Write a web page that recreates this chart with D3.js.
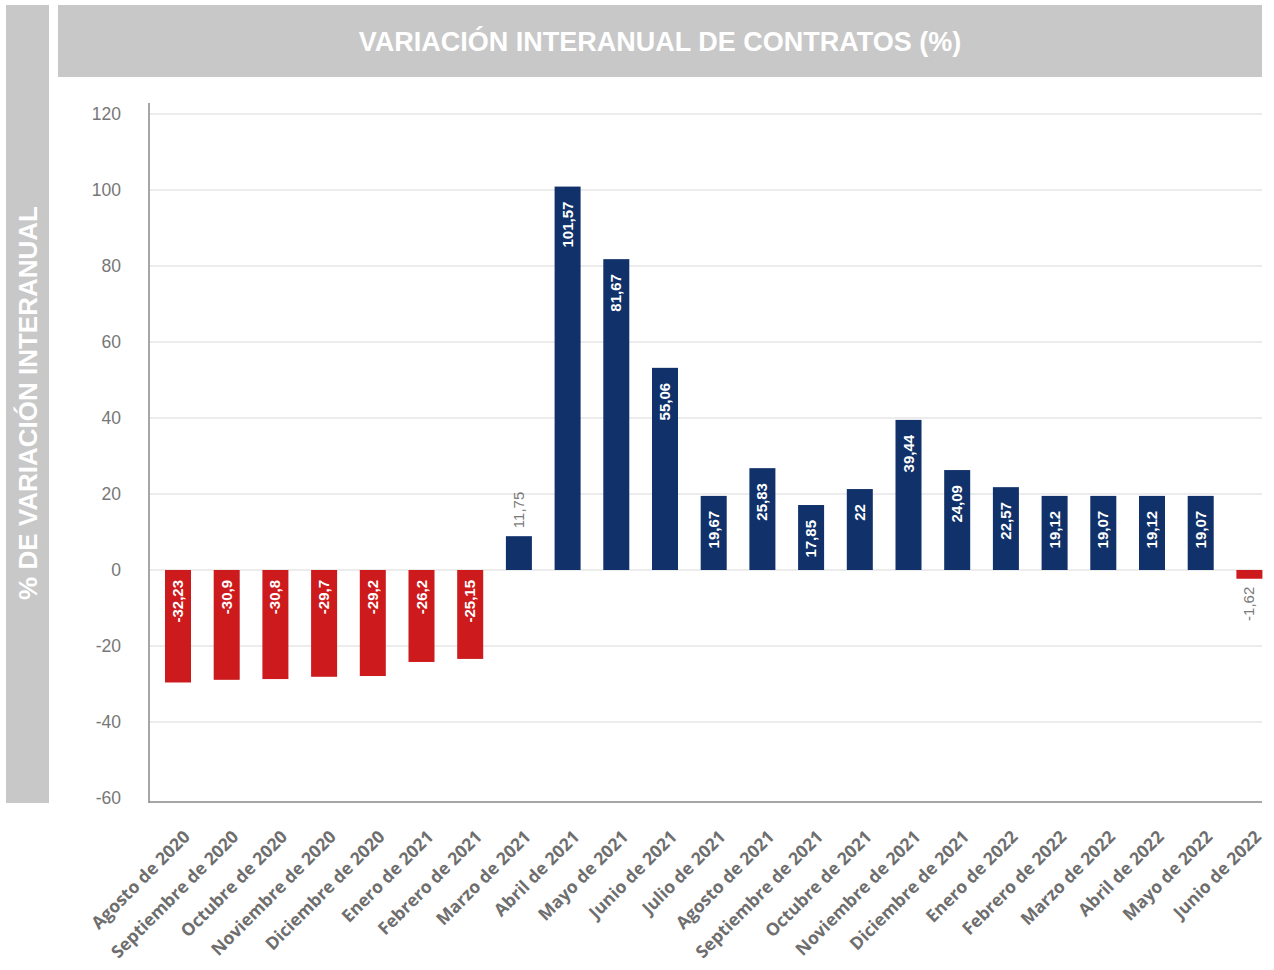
<!DOCTYPE html>
<html>
<head>
<meta charset="utf-8">
<script src="https://cdn.jsdelivr.net/npm/d3@7"></script>
<style>
  body { margin: 0; background: #fff; }
  text { font-family: "Liberation Sans", Arial, sans-serif; }
  text.xtick { font-family: "Open Sans", sans-serif; }
</style>
</head>
<body>
<script>
// chart size
var w = 1274, h = 970;

// data
var months = ["Agosto de 2020", "Septiembre de 2020", "Octubre de 2020", "Noviembre de 2020",
    "Diciembre de 2020", "Enero de 2021", "Febrero de 2021", "Marzo de 2021", "Abril de 2021",
    "Mayo de 2021", "Junio de 2021", "Julio de 2021", "Agosto de 2021", "Septiembre de 2021",
    "Octubre de 2021", "Noviembre de 2021", "Diciembre de 2021", "Enero de 2022",
    "Febrero de 2022", "Marzo de 2022", "Abril de 2022", "Mayo de 2022", "Junio de 2022"];

// bar heights as drawn in the picture
var barValues = [-29.6, -28.9, -28.7, -28.1, -27.9, -24.2, -23.4, 8.9, 100.9, 81.8, 53.2,
    19.5, 26.8, 17.1, 21.3, 39.5, 26.3, 21.8, 19.5, 19.5, 19.5, 19.5, -2.3];

// value labels as printed
var valueLabels = ["-32,23", "-30,9", "-30,8", "-29,7", "-29,2", "-26,2", "-25,15", "11,75",
    "101,57", "81,67", "55,06", "19,67", "25,83", "17,85", "22", "39,44", "24,09", "22,57",
    "19,12", "19,07", "19,12", "19,07", "-1,62"];

// labels that sit outside the bar
var outsideLabels = ["Marzo de 2021", "Junio de 2022"];

var yTicks = [-60, -40, -20, 0, 20, 40, 60, 80, 100, 120];

var svg = d3.select("body")
    .append("svg")
    .attr("width", w)
    .attr("height", h);

// side panel with the axis title
svg.append("rect")
    .attr("x", 6).attr("y", 5)
    .attr("width", 43).attr("height", 798)
    .attr("fill", "#c8c8c8");

svg.append("text")
    .attr("transform", "translate(37,403) rotate(-90)")
    .attr("text-anchor", "middle")
    .attr("fill", "#fff")
    .attr("font-weight", "bold")
    .attr("font-size", 26)
    .text("% DE VARIACIÓN INTERANUAL");

// title panel
svg.append("rect")
    .attr("x", 58).attr("y", 5)
    .attr("width", 1204).attr("height", 72)
    .attr("fill", "#c8c8c8");

svg.append("text")
    .attr("x", 660).attr("y", 51)
    .attr("text-anchor", "middle")
    .attr("fill", "#fff")
    .attr("font-weight", "bold")
    .attr("font-size", 27)
    .text("VARIACIÓN INTERANUAL DE CONTRATOS (%)");

// scales
var y = d3.scaleLinear()
    .domain([-60, 120])
    .range([798, 114]);

var x = d3.scaleBand()
    .domain(months)
    .range([153.65, 1273.75])
    .paddingInner(0.466)
    .paddingOuter(0.233);

// gridlines
svg.selectAll(".grid")
    .data(yTicks.filter(function(d){ return d !== -60; }))
    .enter()
    .append("line")
    .attr("class", "grid")
    .attr("x1", 150).attr("x2", 1262)
    .attr("y1", function(d){ return y(d); })
    .attr("y2", function(d){ return y(d); })
    .attr("stroke", "#e6e6e6")
    .attr("stroke-width", 1.5);

// y tick labels
svg.selectAll(".ytick")
    .data(yTicks)
    .enter()
    .append("text")
    .attr("class", "ytick")
    .attr("x", 121)
    .attr("y", function(d){ return y(d) + 6; })
    .attr("text-anchor", "end")
    .attr("fill", "#777")
    .attr("font-size", 17.5)
    .text(function(d){ return d; });

// bars
svg.selectAll(".bar")
    .data(barValues)
    .enter()
    .append("rect")
    .attr("class", "bar")
    .attr("x", function(d, i){ return x(months[i]); })
    .attr("width", x.bandwidth())
    .attr("y", function(d){ return y(Math.max(0, d)); })
    .attr("height", function(d){ return Math.abs(y(d) - y(0)); })
    .attr("fill", function(d){ return d < 0 ? "#cd1a1d" : "#11316a"; });

// value labels
svg.selectAll(".vlabel")
    .data(barValues)
    .enter()
    .append("text")
    .attr("class", "vlabel")
    .attr("transform", function(d, i){
        var cx = x(months[i]) + x.bandwidth() / 2 + 5;
        var outside = outsideLabels.indexOf(months[i]) >= 0;
        var ty;
        if (outside) {
            ty = d >= 0 ? y(d) - 8 : y(d) + 8;
        } else {
            ty = d >= 0 ? y(d) + 15 : y(0) + 10;
        }
        return "translate(" + cx + "," + ty + ") rotate(-90)";
    })
    .attr("text-anchor", function(d, i){
        var outside = outsideLabels.indexOf(months[i]) >= 0;
        return (outside && d >= 0) ? "start" : "end";
    })
    .attr("fill", function(d, i){
        return outsideLabels.indexOf(months[i]) >= 0 ? "#7a7a7a" : "#fff";
    })
    .attr("font-weight", function(d, i){
        return outsideLabels.indexOf(months[i]) >= 0 ? "normal" : "bold";
    })
    .attr("font-size", 15)
    .text(function(d, i){ return valueLabels[i]; });

// axis lines
svg.append("line")
    .attr("x1", 149).attr("x2", 149)
    .attr("y1", 103).attr("y2", 803)
    .attr("stroke", "#888").attr("stroke-width", 1.5);

svg.append("line")
    .attr("x1", 149).attr("x2", 1262)
    .attr("y1", 802).attr("y2", 802)
    .attr("stroke", "#888").attr("stroke-width", 1.5);

// x tick labels
svg.selectAll(".xtick")
    .data(months)
    .enter()
    .append("text")
    .attr("class", "xtick")
    .attr("transform", function(d){
        var cx = x(d) + x.bandwidth() / 2 + 13;
        return "translate(" + cx + ",838) rotate(-45)";
    })
    .attr("text-anchor", "end")
    .attr("fill", "#6e6e6e")
    .attr("font-weight", "bold")
    .attr("font-size", 17.5)
    .text(function(d){ return d; });
</script>
</body>
</html>
